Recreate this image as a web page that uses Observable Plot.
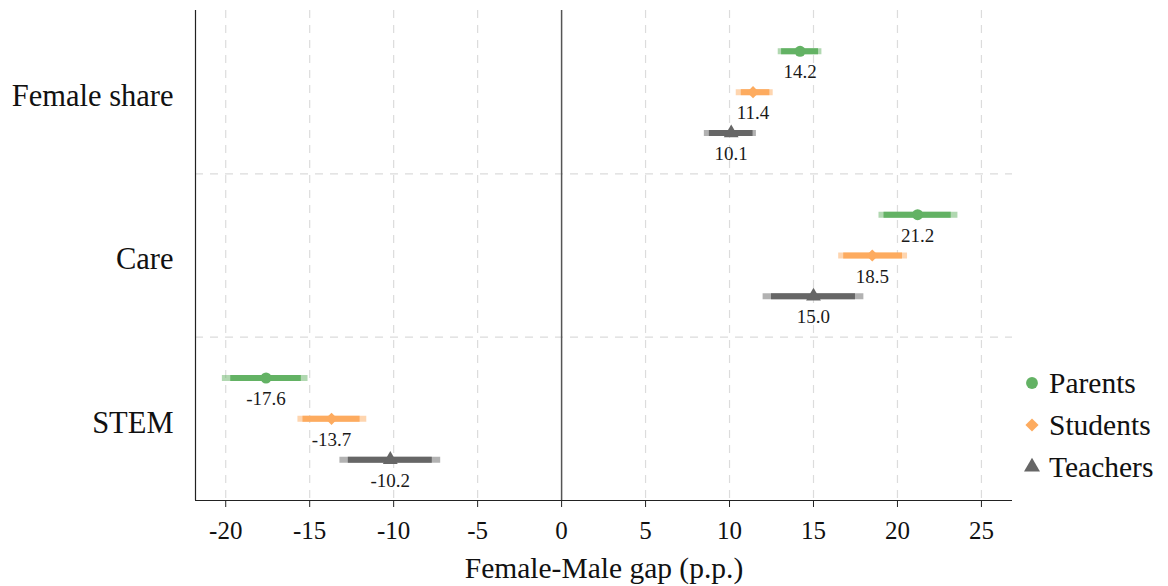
<!DOCTYPE html>
<html>
<head>
<meta charset="utf-8">
<script src="https://cdn.jsdelivr.net/npm/d3@7"></script>
<script src="https://cdn.jsdelivr.net/npm/@observablehq/plot@0.6"></script>
<style>
  html, body { margin: 0; padding: 0; background: #fff; }
  #wrap { position: relative; width: 1168px; height: 586px; font-family: "Liberation Serif", "DejaVu Serif", serif; }
  #legend { position: absolute; left: 1022px; top: 362px; font-size: 29.5px; color: #111; line-height: 42px; }
  #legend .row { display: flex; align-items: center; }
  #legend svg { margin-right: 7px; }
</style>
</head>
<body>
<div id="wrap"></div>
<script>
// ---- data ----
const categories = ["Female share", "Care", "STEM"];
const groups = ["Parents", "Students", "Teachers"];
const colors = ["#63b264", "#fdab5f", "#666666"];
const symbols = ["circle", "diamond2", "triangle"];
// estimates [category][group]
const estimates = [
  [14.2, 11.4, 10.1],
  [21.2, 18.5, 15.0],
  [-17.6, -13.7, -10.2]
];
// outer (lighter) interval
const outerLo = [
  [12.9, 10.4, 8.5],
  [18.9, 16.5, 12.0],
  [-20.2, -15.7, -13.2]
];
const outerHi = [
  [15.5, 12.6, 11.6],
  [23.6, 20.6, 18.0],
  [-15.1, -11.6, -7.2]
];
// inner (darker) interval
const innerLo = [
  [13.1, 10.7, 8.8],
  [19.2, 16.8, 12.5],
  [-19.7, -15.4, -12.7]
];
const innerHi = [
  [15.3, 12.4, 11.4],
  [23.2, 20.3, 17.5],
  [-15.5, -12.0, -7.7]
];
const xTicks = [-20, -15, -10, -5, 0, 5, 10, 15, 20, 25];
const xDomain = [-21.8, 26.85];
const axisTitle = "Female-Male gap (p.p.)";

// ---- table ----
const rows = [];
categories.forEach((c, i) => groups.forEach((g, j) => {
  rows.push({
    category: c, group: g, pos: i * 4 + j + 1,
    est: estimates[i][j],
    olo: outerLo[i][j], ohi: outerHi[i][j],
    ilo: innerLo[i][j], ihi: innerHi[i][j]
  });
}));
const catPos = categories.map((c, i) => i * 4 + 2);
const sepPos = categories.slice(1).map((c, i) => (i + 1) * 4);
const yDomain = [0, categories.length * 4];

const font = '"Liberation Serif", "DejaVu Serif", serif';

const chart = Plot.plot({
  width: 1168,
  height: 586,
  marginLeft: 195,
  marginRight: 156,
  marginTop: 10,
  marginBottom: 86,
  style: { fontFamily: font, fontSize: "25px", color: "#111", background: "#fff" },
  x: { domain: xDomain },
  y: { domain: yDomain, reverse: true },
  color: { domain: groups, range: colors },
  symbol: { domain: groups, range: symbols },
  marks: [
    Plot.ruleX(xTicks.filter(d => d !== 0), { stroke: "#dcdcdc", strokeWidth: 1.2, strokeDasharray: "8,7" }),
    Plot.ruleY(sepPos, { stroke: "#dcdcdc", strokeWidth: 1.2, strokeDasharray: "8,7" }),
    Plot.ruleX([0], { stroke: "#555", strokeWidth: 1.5 }),
    Plot.ruleY([yDomain[1]], { stroke: "#222", strokeWidth: 1.2 }),
    Plot.ruleX([xDomain[0]], { stroke: "#222", strokeWidth: 1.2 }),
    Plot.ruleY(rows, { y: "pos", x1: "olo", x2: "ohi", stroke: "group", strokeWidth: 6, strokeOpacity: 0.5 }),
    Plot.ruleY(rows, { y: "pos", x1: "ilo", x2: "ihi", stroke: "group", strokeWidth: 6 }),
    Plot.dot(rows, { x: "est", y: "pos", fill: "group", symbol: "group", r: 5.5, stroke: null }),
    Plot.text(rows, { x: "est", y: "pos", text: d => d.est.toFixed(1), dy: 21, fontSize: 19, fill: "#1a1a1a" }),
    Plot.axisX({ ticks: xTicks, tickSize: 7, tickPadding: 14, fontSize: 25, stroke: "#222",
      tickFormat: d => String(d).replace("−", "-") }),
    Plot.axisX({ ticks: [], tickSize: 0, fontSize: 29.5, label: axisTitle, labelAnchor: "center", labelArrow: "none", labelOffset: 77 }),
    Plot.axisY({ ticks: catPos, tickSize: 0, tickPadding: 22, fontSize: 30.5, dy: 4,
      tickFormat: d => categories[(d - 2) / 4], label: null })
  ]
});

const wrap = document.getElementById("wrap");
wrap.appendChild(chart);

// legend
const legend = document.createElement("div");
legend.id = "legend";
const symMap = { circle: d3.symbolCircle, diamond2: d3.symbolDiamond2, triangle: d3.symbolTriangle };
groups.forEach((g, j) => {
  const row = document.createElement("div");
  row.className = "row";
  const s = d3.create("svg").attr("width", 20).attr("height", 20);
  s.append("path")
    .attr("transform", "translate(10,10)")
    .attr("d", d3.symbol(symMap[symbols[j]], 110)())
    .attr("fill", colors[j]);
  row.appendChild(s.node());
  const t = document.createElement("span");
  t.textContent = g;
  row.appendChild(t);
  legend.appendChild(row);
});
wrap.appendChild(legend);
</script>
</body>
</html>
